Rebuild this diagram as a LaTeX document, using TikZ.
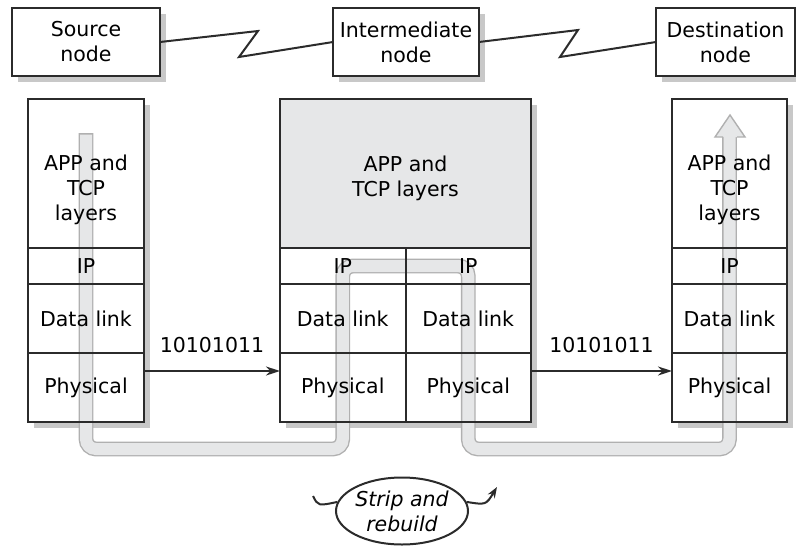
\documentclass[tikz,border=0pt]{standalone}
\usepackage{fontspec}
\setmainfont{DejaVu Sans}
\usetikzlibrary{arrows.meta, positioning, shapes.geometric}
\pgfdeclarelayer{back}
\pgfdeclarelayer{pipe}
\pgfsetlayers{back,pipe,main}

\definecolor{linec}{HTML}{2B2B2B}
\definecolor{shadec}{HTML}{C8C8C8}
\definecolor{grayfill}{HTML}{E6E7E8}
\definecolor{pipeedge}{HTML}{B0B0B0}
\definecolor{pipefill}{HTML}{E6E7E8}

\begin{document}
\begin{tikzpicture}[x=1pt, y=-1pt,
  font=\fontsize{20.5}{25}\selectfont,
  cell/.style={draw=linec, line width=2pt, inner sep=0pt, outer sep=0pt, align=center},
  topbox/.style={cell, minimum height=68pt},
  wire/.style={draw=linec, line width=2pt},
  arr/.style={-{Stealth[length=14pt, width=9pt]}, line width=2pt, draw=linec},
  bits/.style={midway, above=17pt, inner sep=0pt},
  pipe/.style={draw=pipeedge, double=pipefill, line width=1.4pt, double distance=12pt, rounded corners=10pt, line cap=rect}
]
\useasboundingbox (0,0) rectangle (796,547);

% network nodes
\node[topbox, minimum width=148pt] (src) at (86,42) {Source\\node};
\node[topbox, minimum width=146pt] (mid) at (406,42) {Intermediate\\node};
\node[topbox, minimum width=139pt] (dst) at (725.5,42) {Destination\\node};

\draw[wire] (src.east) -- (258,31) -- (239,57) -- (mid.west);
\draw[wire] (mid.east) -- (578,30) -- (560,57) -- (dst.west);

% source stack
\node[cell, minimum width=116pt, minimum height=149pt] (lapp) at (86,173.5) {};
\node[cell, minimum width=116pt, minimum height=36pt, below=0pt of lapp] (lip) {IP};
\node[cell, minimum width=116pt, minimum height=69pt, below=0pt of lip] (ldl) {Data link};
\node[cell, minimum width=116pt, minimum height=69pt, below=0pt of ldl] (lphy) {Physical};
\node[align=center] at ([yshift=-16pt]lapp.center) {APP and\\TCP\\layers};

% intermediate stack
\node[cell, minimum width=251pt, minimum height=149pt] (mapp) at (405.5,173.5) {};
\node[align=center] at ([yshift=-5pt]mapp.center) {APP and\\TCP layers};
\node[cell, minimum width=125.5pt, minimum height=36pt, below right=0pt and 0pt of mapp.south west] (mlip) {IP};
\node[cell, minimum width=125.5pt, minimum height=36pt, right=0pt of mlip] (mrip) {IP};
\node[cell, minimum width=125.5pt, minimum height=69pt, below=0pt of mlip] (mldl) {Data link};
\node[cell, minimum width=125.5pt, minimum height=69pt, below=0pt of mrip] (mrdl) {Data link};
\node[cell, minimum width=125.5pt, minimum height=69pt, below=0pt of mldl] (mlphy) {Physical};
\node[cell, minimum width=125.5pt, minimum height=69pt, below=0pt of mrdl] (mrphy) {Physical};

% destination stack
\node[cell, minimum width=115pt, minimum height=149pt] (rapp) at (729.5,173.5) {};
\node[cell, minimum width=115pt, minimum height=36pt, below=0pt of rapp] (rip) {IP};
\node[cell, minimum width=115pt, minimum height=69pt, below=0pt of rip] (rdl) {Data link};
\node[cell, minimum width=115pt, minimum height=69pt, below=0pt of rdl] (rphy) {Physical};
\node[align=center] at ([yshift=-16pt]rapp.center) {APP and\\TCP\\layers};

% bit streams
\draw[arr] ([yshift=16.5pt]lphy.east) -- node[bits] {10101011} ([yshift=16.5pt]mlphy.west);
\draw[arr] ([yshift=16.5pt]mrphy.east) -- node[bits] {10101011} ([yshift=16.5pt]rphy.west);

% strip and rebuild
\node[ellipse, draw=linec, line width=2pt, minimum width=132pt, minimum height=67pt, inner sep=0pt, align=center, font=\fontsize{20.5}{25}\selectfont\itshape] (strip) at (402,511) {Strip and\\rebuild};
\coordinate (tin) at (313,496);
\coordinate (tout) at (497,487);
\draw[wire] (tin) .. controls (318,506) .. (strip.172);
\draw[wire, -{Stealth[length=11pt, width=8pt]}] (strip.8) .. controls (486,505) .. (tout);

% shadows and fills
\begin{pgfonlayer}{back}
\foreach \a/\b in {src/src, mid/mid, dst/dst, lapp/lphy, mapp/mrphy, rapp/rphy}{
  \fill[shadec] ([shift={(6,6)}]\a.north west) rectangle ([shift={(6,6)}]\b.south east);
  \fill[white] (\a.north west) rectangle (\b.south east);
}
\fill[grayfill] (mapp.north west) rectangle (mapp.south east);
\end{pgfonlayer}

% data path
\coordinate (low) at (0,449);
\begin{pgfonlayer}{pipe}
\draw[pipe] ([yshift=-41.5pt]lapp.north) -- (lapp |- low) -- (mlip |- low) -- (mlip.center) -- (mrip.center) -- (mrip |- low) -- (rapp |- low) -- ([yshift=-41pt]rapp.north);
\filldraw[draw=pipeedge, fill=pipefill, line width=1.4pt] (723,137) -- (715,137) -- (730,115) -- (745,137) -- (737,137);
\end{pgfonlayer}
\end{tikzpicture}
\end{document}
